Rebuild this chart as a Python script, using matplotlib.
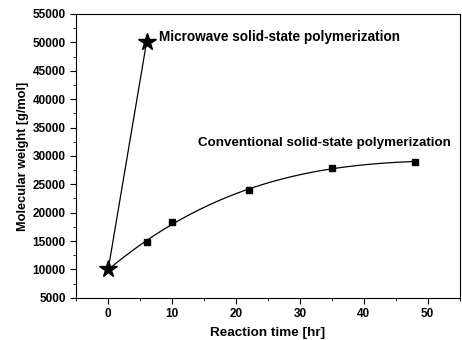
import numpy as np
import matplotlib.pyplot as plt
from matplotlib.ticker import MultipleLocator

plt.rcParams['font.family'] = ['Liberation Sans', 'DejaVu Sans']
plt.rcParams['font.weight'] = 'bold'

# microwave solid-state polymerization
mw_time = [0, 6]
mw_weight = [10000, 50000]

# conventional solid-state polymerization
conv_time = [0, 6, 10, 22, 35, 48]
conv_weight = [10000, 14800, 18300, 24000, 27800, 29000]

fig = plt.figure(figsize=(4.62, 3.4), dpi=100)
ax = fig.add_axes([0.165, 0.124, 0.83, 0.835])

# fitted curve through the conventional points
coef = np.polyfit(conv_time, conv_weight, 3)
xs = np.linspace(0, 48, 200)
ax.plot(xs, np.polyval(coef, xs), color='black', lw=0.9)
ax.plot(conv_time[1:], conv_weight[1:], 's', color='black', ms=4.5)

ax.plot(mw_time, mw_weight, color='black', lw=0.9)
ax.plot(mw_time, mw_weight, '*', color='black', ms=13)

ax.text(7.9, 50950, 'Microwave solid-state polymerization', fontsize=9.8,
        fontweight='bold', va='center')
ax.text(14, 32300, 'Conventional solid-state polymerization', fontsize=9.6,
        fontweight='bold', va='center')

ax.set_xlim(-5, 55)
ax.set_ylim(5000, 55000)
ax.xaxis.set_major_locator(MultipleLocator(10))
ax.xaxis.set_minor_locator(MultipleLocator(5))
ax.yaxis.set_major_locator(MultipleLocator(5000))
ax.yaxis.set_minor_locator(MultipleLocator(2500))
ax.tick_params(which='both', direction='out', top=False, right=False, labelsize=8.5)
ax.tick_params(which='major', length=4)
ax.tick_params(which='minor', length=2.5)
for lab in ax.get_xticklabels() + ax.get_yticklabels():
    lab.set_fontweight('bold')

ax.set_xlabel('Reaction time [hr]', fontsize=9.7, fontweight='bold', labelpad=5)
ax.set_ylabel('Molecular weight [g/mol]', fontsize=9.2, fontweight='bold', labelpad=3)

fig.savefig('out.png', dpi=100)
